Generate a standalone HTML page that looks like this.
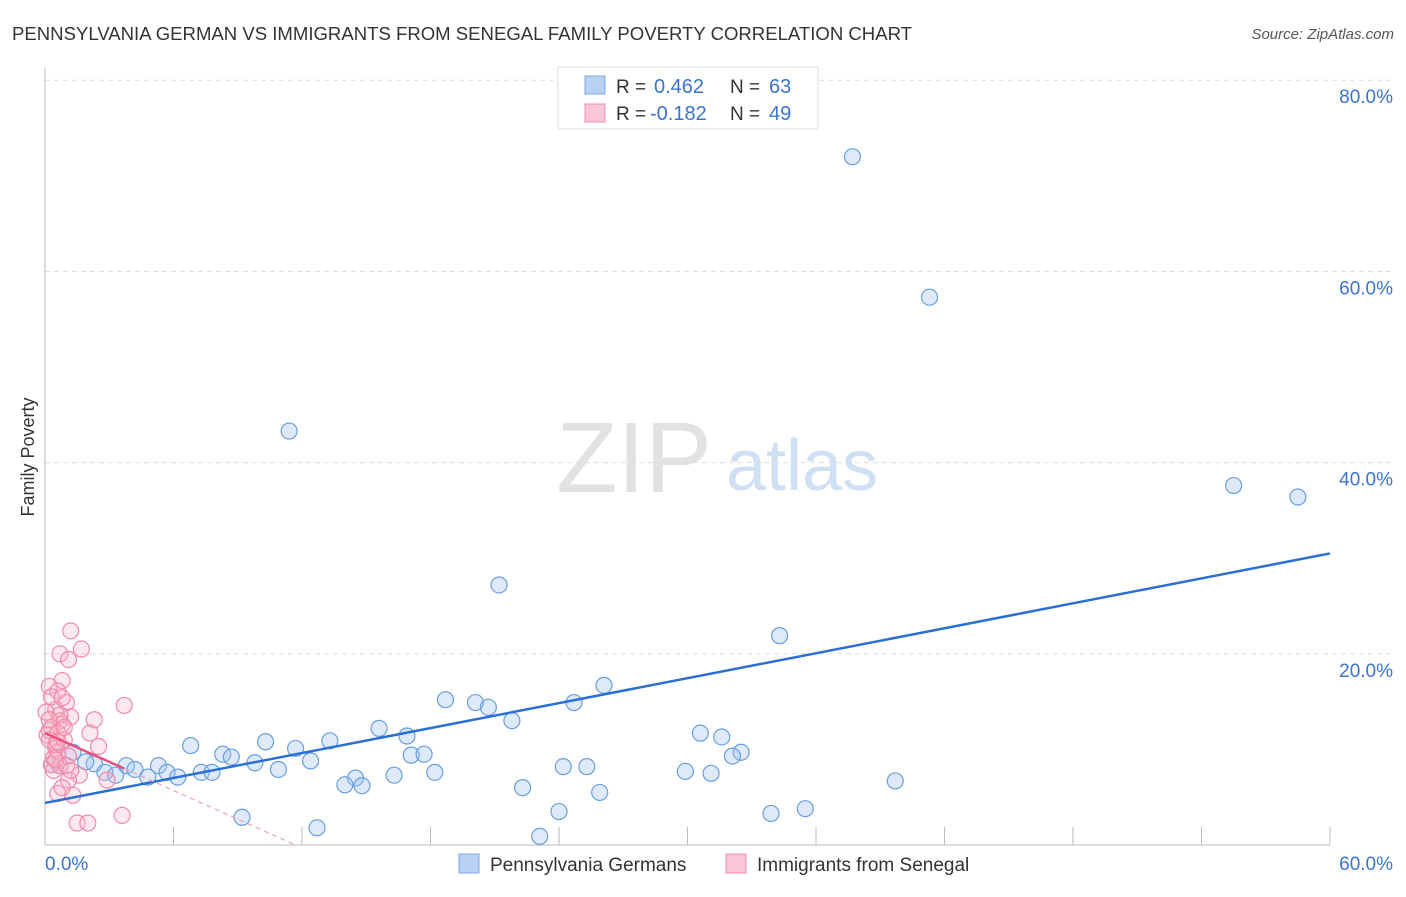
<!DOCTYPE html>
<html><head><meta charset="utf-8"><style>
body{margin:0;background:#fff;font-family:"Liberation Sans",sans-serif;}
svg text{font-family:"Liberation Sans",sans-serif;}
</style></head><body>
<svg id="chart" width="1406" height="892">
<text x="12" y="40" font-size="18" fill="#333" textLength="900" lengthAdjust="spacingAndGlyphs">PENNSYLVANIA GERMAN VS IMMIGRANTS FROM SENEGAL FAMILY POVERTY CORRELATION CHART</text>
<text x="1394" y="39" font-size="15" fill="#555" font-style="italic" text-anchor="end">Source: ZipAtlas.com</text>
<text x="34" y="457" font-size="18" fill="#333" text-anchor="middle" transform="rotate(-90 34 457)">Family Poverty</text>
<g><text x="634" y="492" font-size="100" fill="#e2e2e2" font-family="Liberation Serif" text-anchor="middle">ZIP</text><text x="802" y="490" font-size="72" fill="#d0e0f4" text-anchor="middle">atlas</text></g>
<g id="grid"></g><g id="axes"></g><g id="marks"></g>
<g>
<rect x="558" y="67" width="260" height="62" fill="#fff" stroke="#ddd"/>
<rect x="585" y="76" width="20" height="18" fill="#b8d2f4" stroke="#7fa8e0"/>
<rect x="585" y="104" width="20" height="18" fill="#fcc6d6" stroke="#f090ae"/>
<text x="616" y="93" font-size="19" fill="#333">R = </text><text x="654" y="93" font-size="20" fill="#3a74d0">0.462</text>
<text x="730" y="93" font-size="19" fill="#333">N = </text><text x="769" y="93" font-size="20" fill="#3a74d0">63</text>
<text x="616" y="120" font-size="19" fill="#333">R = </text><text x="650" y="120" font-size="20" fill="#3a74d0">-0.182</text>
<text x="730" y="120" font-size="19" fill="#333">N = </text><text x="769" y="120" font-size="20" fill="#3a74d0">49</text>
</g>
<g>
<rect x="459" y="854" width="20" height="19" fill="#b8d2f4" stroke="#7fa8e0"/>
<text x="490" y="871" font-size="19" fill="#333">Pennsylvania Germans</text>
<rect x="726" y="854" width="20" height="19" fill="#fcc6d6" stroke="#f090ae"/>
<text x="757" y="871" font-size="19" fill="#333">Immigrants from Senegal</text>
</g>
</svg>
<script>
const yTicks=[20,40,60,80];
const xTickLabels=["0.0%","60.0%"];
const blueX=[37.7,41.3,11.4,55.5,58.5,21.2,34.3,26.1,18.7,20.1,20.7,24.7,21.8,15.6,16.9,30.6,31.6,32.5,32.1,6.8,10.3,11.7,13.3,1.3,8.3,8.7,9.8,17.1,17.7,5.3,2.3,3.8,4.2,2.8,3.3,4.8,5.7,6.2,7.3,7.8,10.9,12.4,14.5,14.0,14.8,16.3,18.2,24.2,25.3,29.9,31.1,39.7,22.3,25.9,24.0,33.9,35.5,9.2,12.7,23.1,0.7,1.9,0.3];
const blueY=[72.0,57.3,43.3,37.6,36.4,27.2,21.9,16.7,15.2,14.9,14.4,14.9,13.0,12.2,11.4,11.7,11.3,9.7,9.3,10.4,10.8,10.1,10.9,9.7,9.5,9.2,8.6,9.4,9.5,8.3,8.5,8.3,7.9,7.6,7.3,7.1,7.6,7.1,7.6,7.6,7.9,8.8,7.0,6.3,6.2,7.3,7.6,8.2,8.2,7.7,7.5,6.7,6.0,5.5,3.5,3.3,3.8,2.9,1.8,0.9,8.3,8.7,8.4];
const pinkX=[1.2,1.7,0.7,1.1,0.2,0.8,0.6,1.0,3.7,0.5,1.2,2.3,0.7,0.8,0.3,2.1,0.1,0.6,0.2,2.5,0.5,0.6,1.1,0.3,0.4,0.7,2.9,1.6,1.1,0.6,1.3,0.8,1.5,2.0,3.6,0.5,0.9,0.05,0.3,1.0,0.2,0.7,0.9,0.4,0.6,1.2,0.2,0.8,0.5];
const pinkY=[22.4,20.5,20.0,19.4,16.6,17.2,16.1,14.9,14.6,14.2,13.4,13.1,13.0,12.6,12.3,11.7,11.5,11.7,11.0,10.3,10.1,9.7,9.3,8.4,7.8,8.3,6.8,7.3,6.8,5.4,5.2,6.0,2.3,2.3,3.1,10.5,11.0,13.9,15.5,8.3,12.0,13.6,12.3,9.1,10.8,7.8,13.1,15.4,8.9];
const blueTrend=[4.4,30.5];
const pinkTrend=[11.7,-1.0];
const NS="http://www.w3.org/2000/svg";
const X0=45,X1=1330,Y0=845,PXY=9.56;
const sx=v=>X0+(v/60)*(X1-X0);
const sy=v=>Y0-v*PXY;
function mk(t,a,p){const e=document.createElementNS(NS,t);for(const k in a)e.setAttribute(k,a[k]);p.appendChild(e);return e;}
const grid=document.getElementById('grid'),axes=document.getElementById('axes'),marks=document.getElementById('marks');
yTicks.forEach(t=>{
 const l=mk('line',{x1:X0,x2:1394,y1:sy(t),y2:sy(t),stroke:'#ddd','stroke-dasharray':'5,4'},grid);
 
 
 const tx=mk('text',{x:1393,y:sy(t)+23,'font-size':19,fill:'#3a74d0','text-anchor':'end'},axes);
 tx.textContent=t.toFixed(1)+'%';
 
 
});
const ax=mk('line',{x1:X0,x2:X0,y1:68,y2:Y0,stroke:'#bbb'},axes);


const bx=mk('line',{x1:X0,x2:X1,y1:Y0,y2:Y0,stroke:'#bbb'},axes);


for(let i=0;i<=10;i++){const t=mk('line',{x1:sx(i*6),x2:sx(i*6),y1:Y0,y2:Y0-18,stroke:'#bbb'},axes);
 
 }
[[0,'start',45],[1,'end',1393]].forEach(([i,a,x])=>{const t=mk('text',{x:x,y:870,'font-size':19,fill:'#3a74d0','text-anchor':a},axes);t.textContent=xTickLabels[i];
 
 });
blueX.forEach((v,i)=>{const c=mk('circle',{cx:sx(v),cy:sy(blueY[i]),r:8,fill:'rgba(160,195,240,0.35)',stroke:'#6a9ee0','stroke-width':1.2},marks);
 
 });
pinkX.forEach((v,i)=>{const c=mk('circle',{cx:sx(v),cy:sy(pinkY[i]),r:8,fill:'rgba(250,180,200,0.3)',stroke:'#f08aaa','stroke-width':1.2},marks);
 
 });
const bl=mk('line',{x1:sx(0),y1:sy(blueTrend[0]),x2:sx(60),y2:sy(blueTrend[1]),stroke:'#2a6fd6','stroke-width':2.5},marks);


const pEnd=-pinkTrend[0]/pinkTrend[1];
const pl=mk('line',{x1:sx(0),y1:sy(pinkTrend[0]),x2:sx(3.7),y2:sy(pinkTrend[0]+pinkTrend[1]*3.7),stroke:'#e8507e','stroke-width':2.5},marks);


const pd=mk('line',{x1:sx(3.7),y1:sy(pinkTrend[0]+pinkTrend[1]*3.7),x2:sx(pEnd),y2:sy(0),stroke:'#f0a0b8','stroke-width':1.2,'stroke-dasharray':'5,4'},marks);


</script>
</body></html>
